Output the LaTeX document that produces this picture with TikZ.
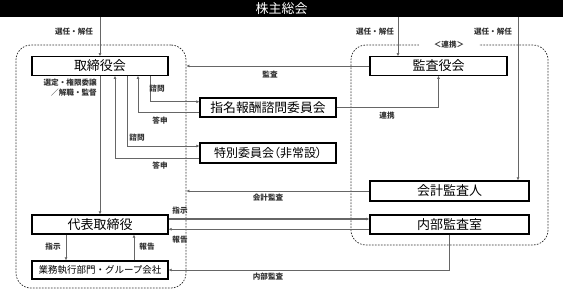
\documentclass[tikz,border=0pt]{standalone}
\usepackage{fontspec}
\setmainfont{Noto Sans CJK JP}
\newfontfamily\paltfont[RawFeature=+palt]{Noto Sans CJK JP}
\usetikzlibrary{arrows.meta,calc}
\tikzset{
  boxA/.style={draw=black, line width=1.2pt, fill=white, inner sep=0pt, minimum height=18.5pt, font=\fontsize{13}{13}\selectfont},
  lbl/.style={font=\fontsize{7.6}{8}\selectfont\bfseries, inner sep=0pt, text=black!80},
  conn/.style={draw=black!60, line width=0.9pt},
  arr/.style={conn, -{Latex[length=3pt,width=3pt]}},
  frame/.style={draw=black!80, line width=0.75pt, dash pattern=on 1.6pt off 1.4pt, rounded corners=15pt, inner sep=0pt},
}
\begin{document}
\begin{tikzpicture}[x=1pt,y=-1pt]
\useasboundingbox (0,0) rectangle (563,291);
% top bar
\node[fill=black, minimum width=563pt, minimum height=17pt, anchor=north west, inner sep=0pt, text=white, font=\fontsize{13}{13}\selectfont] (topbar) at (0,0) {株主総会};
% frames
\node[frame, minimum width=170pt, minimum height=243pt] (lframe) at (101,166.5) {};
\node[frame, minimum width=197pt, minimum height=200pt] (rframe) at (449.5,145) {};
\node[fill=white, minimum width=60pt, minimum height=5pt, inner sep=0pt, font=\fontsize{7.6}{8}\selectfont\bfseries, text=black!80] (renkei) at (449,45) {＜連携＞};
% boxes
\node[boxA, minimum width=136pt] (bod) at (100,66) {取締役会};
\node[boxA, minimum width=137pt] (kansa) at (438.5,66) {監査役会};
\node[boxA, minimum width=136pt, minimum height=19pt, font=\fontsize{12.8}{12.8}\selectfont] (shimei) at (268,107.5) {指名報酬諮問委員会};
\node[boxA, minimum width=136pt, minimum height=20pt, font=\paltfont\fontsize{12}{12}\selectfont] (toku) at (268,153) {特別委員会（非常設）};
\node[boxA, minimum width=159pt, minimum height=20pt] (kaikei) at (449.5,191) {会計監査人};
\node[boxA, minimum width=159pt, minimum height=19pt] (naibu) at (449.5,224.5) {内部監査室};
\node[boxA, minimum width=136pt, minimum height=19pt] (ceo) at (100,224.5) {代表取締役};
\node[boxA, minimum width=136pt, minimum height=18pt, font=\fontsize{9.5}{9.5}\selectfont] (gyomu) at (100,270) {業務執行部門・グループ会社};
% from top bar
\draw[arr] (bod.north |- topbar.south) -- (bod.north);
\draw[arr] ([xshift=-40.5pt]kansa.north |- topbar.south) -- ([xshift=-40.5pt]kansa.north);
\draw[arr] ([xshift=68.5pt]kaikei.north |- topbar.south) -- ([xshift=68.5pt]kaikei.north);
% audit
\draw[arr] (kansa.west) -- (kansa.west -| lframe.east);
\draw[arr] (shimei.east) -| (kansa.south);
\draw[arr] (kaikei.west) -- (kaikei.west -| lframe.east);
% board & committees
\draw[arr] ([xshift=50pt]bod.south) |- ([yshift=5.8pt]shimei.west);
\draw[arr] ([yshift=-5.2pt]shimei.west) -| ([xshift=38pt]bod.south);
\draw[arr] ([xshift=27pt]bod.south) |- ([yshift=7pt]toku.west);
\draw[arr] ([yshift=-5pt]toku.west) -| ([xshift=15pt]bod.south);
\draw[arr] (bod.south) -- (ceo.north);
% ceo & internal audit
\draw[arr, line width=1.3pt] ([yshift=5.5pt]ceo.east) -- ([yshift=5.5pt]ceo.east -| naibu.west);
\draw[arr] ([yshift=-4.8pt]naibu.west) -- ([yshift=-4.8pt]naibu.west -| ceo.east);
\draw[arr] ([xshift=-34pt]ceo.south) -- ([xshift=-34pt]gyomu.north);
\draw[arr] ([xshift=34pt]gyomu.north) -- ([xshift=34pt]ceo.south);
\draw[arr] (naibu.south) |- (gyomu.east);
% labels
\node[lbl] (l1) at (74,32) {選任・解任};
\node[lbl] (l2) at (375,32) {選任・解任};
\node[lbl] (l3) at (493,32) {選任・解任};
\node[lbl] (l4) at (270,75) {監査};
\node[lbl] (l5) at (157,88.5) {諮問};
\node[lbl] (l6) at (160,121) {答申};
\node[lbl] (l7) at (137,138) {諮問};
\node[lbl] (l8) at (160,166) {答申};
\node[lbl] (l9) at (387,116) {連携};
\node[lbl, align=right, anchor=east, font=\fontsize{7.6}{10}\selectfont\bfseries] (l10) at (97,88) {選定・権限委譲\\／解職・監督};
\node[lbl] (l11) at (268,198) {会計監査};
\node[lbl] (l12) at (180,211) {指示};
\node[lbl] (l13) at (180,240) {報告};
\node[lbl] (l14) at (53,247) {指示};
\node[lbl] (l15) at (147,247) {報告};
\node[lbl] (l16) at (268,277) {内部監査};
\end{tikzpicture}
\end{document}
